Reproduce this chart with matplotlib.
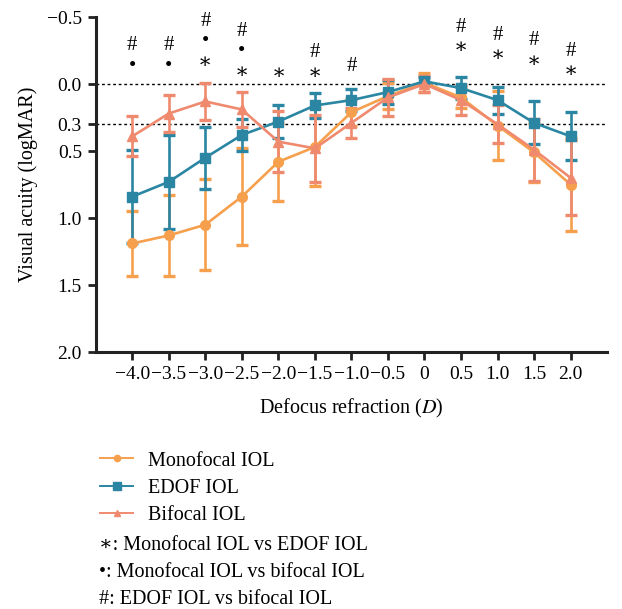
import numpy as np
import matplotlib.pyplot as plt
from matplotlib.lines import Line2D

plt.rcParams['font.family'] = ['Liberation Serif', 'DejaVu Serif']
plt.rcParams['mathtext.fontset'] = 'stix'

defocus = [-4.0, -3.5, -3.0, -2.5, -2.0, -1.5, -1.0, -0.5, 0.0, 0.5, 1.0, 1.5, 2.0]
xtick_labels = ['\u22124.0', '\u22123.5', '\u22123.0', '\u22122.5', '\u22122.0', '\u22121.5',
                '\u22121.0', '\u22120.5', '0', '0.5', '1.0', '1.5', '2.0']

mono = [1.19, 1.13, 1.05, 0.84, 0.58, 0.47, 0.21, 0.09, -0.01, 0.10, 0.31, 0.51, 0.75]
mono_sd = [0.24, 0.30, 0.34, 0.36, 0.29, 0.29, 0.10, 0.10, 0.07, 0.08, 0.26, 0.22, 0.35]
edof = [0.84, 0.73, 0.55, 0.38, 0.28, 0.16, 0.12, 0.06, -0.02, 0.03, 0.12, 0.29, 0.39]
edof_sd = [0.35, 0.35, 0.23, 0.12, 0.12, 0.09, 0.08, 0.09, 0.03, 0.08, 0.10, 0.16, 0.18]
bifo = [0.39, 0.22, 0.13, 0.19, 0.43, 0.48, 0.29, 0.10, 0.00, 0.12, 0.30, 0.49, 0.70]
bifo_sd = [0.15, 0.14, 0.14, 0.13, 0.23, 0.25, 0.11, 0.14, 0.06, 0.11, 0.14, 0.23, 0.28]

# significance marks per defocus step, listed bottom to top
sig_marks = [['\u2022', '#'], ['\u2022', '#'], ['\u2217', '\u2022', '#'], ['\u2217', '\u2022', '#'],
             ['\u2217'], ['\u2217', '#'], ['#'], [], [], ['\u2217', '#'], ['\u2217', '#'],
             ['\u2217', '#'], ['\u2217', '#']]
sig_base = [-0.13, -0.13, -0.16, -0.085, -0.08, -0.08, -0.13, 0, 0, -0.27, -0.21, -0.17, -0.09]
sig_step = 0.155

c_mono = '#F6A04E'
c_edof = '#2A86A2'
c_bifo = '#F08A6F'

fig = plt.figure(figsize=(6.22, 6.09), dpi=100)
ax = fig.add_axes([0.154, 0.422, 0.822, 0.55])

ax.axhline(0.0, color='black', lw=1.0, ls=(0, (2, 2)), zorder=1)
ax.axhline(0.3, color='black', lw=1.0, ls=(0, (2, 2)), zorder=1)

kw = dict(lw=1.9, elinewidth=1.9, capsize=4.5, capthick=2.4, markersize=7, zorder=3)
ax.errorbar(defocus, mono, yerr=mono_sd, color=c_mono, marker='o', **kw)
ax.errorbar(defocus, edof, yerr=edof_sd, color=c_edof, marker='s', **kw)
ax.errorbar(defocus, bifo, yerr=bifo_sd, color=c_bifo, marker='^', **kw)

for x, marks, base in zip(defocus, sig_marks, sig_base):
    for k, m in enumerate(marks):
        ax.text(x, base - k * sig_step, m, ha='center', va='center', fontsize=15,
                family=['DejaVu Serif'] if m == '\u2217' else ['Liberation Serif', 'DejaVu Serif'])

ax.set_xlim(-4.5, 2.5)
ax.set_ylim(2.0, -0.5)
ax.set_xticks(defocus)
ax.set_xticklabels(xtick_labels)
ax.set_yticks([-0.5, 0.0, 0.3, 0.5, 1.0, 1.5, 2.0])
ax.set_yticklabels(['\u22120.5', '0.0', '0.3', '0.5', '1.0', '1.5', '2.0'])
ax.tick_params(labelsize=14, width=2, length=6, color='#222222', pad=4)
for s in ['top', 'right']:
    ax.spines[s].set_visible(False)
for s in ['left', 'bottom']:
    ax.spines[s].set_linewidth(2.2)
    ax.spines[s].set_color('#222222')

ax.set_xlabel('Defocus refraction ($\\mathit{D}$)', fontsize=14.5, labelpad=10)
ax.set_ylabel('Visual acuity (logMAR)', fontsize=14.5, labelpad=6)

handles = [
    Line2D([], [], color=c_mono, marker='o', markersize=4.5, lw=1.4),
    Line2D([], [], color=c_edof, marker='s', markersize=5.5, lw=1.4),
    Line2D([], [], color=c_bifo, marker='^', markersize=4.5, lw=1.4),
]
fig.legend(handles, ['Monofocal IOL', 'EDOF IOL', 'Bifocal IOL'], loc='upper left',
           bbox_to_anchor=(0.148, 0.272), frameon=False, fontsize=14.5,
           handlelength=1.65, handletextpad=0.75, labelspacing=0.4, borderaxespad=0)

notes = ['\u2217: Monofocal IOL vs EDOF IOL', '\u2022: Monofocal IOL vs bifocal IOL',
         '#: EDOF IOL vs bifocal IOL']
for i, t in enumerate(notes):
    fig.text(0.159, 1 - (545 + i * 27.5) / 609, t, ha='left', va='center', fontsize=14.5)

fig.savefig('out.png', dpi=100)
